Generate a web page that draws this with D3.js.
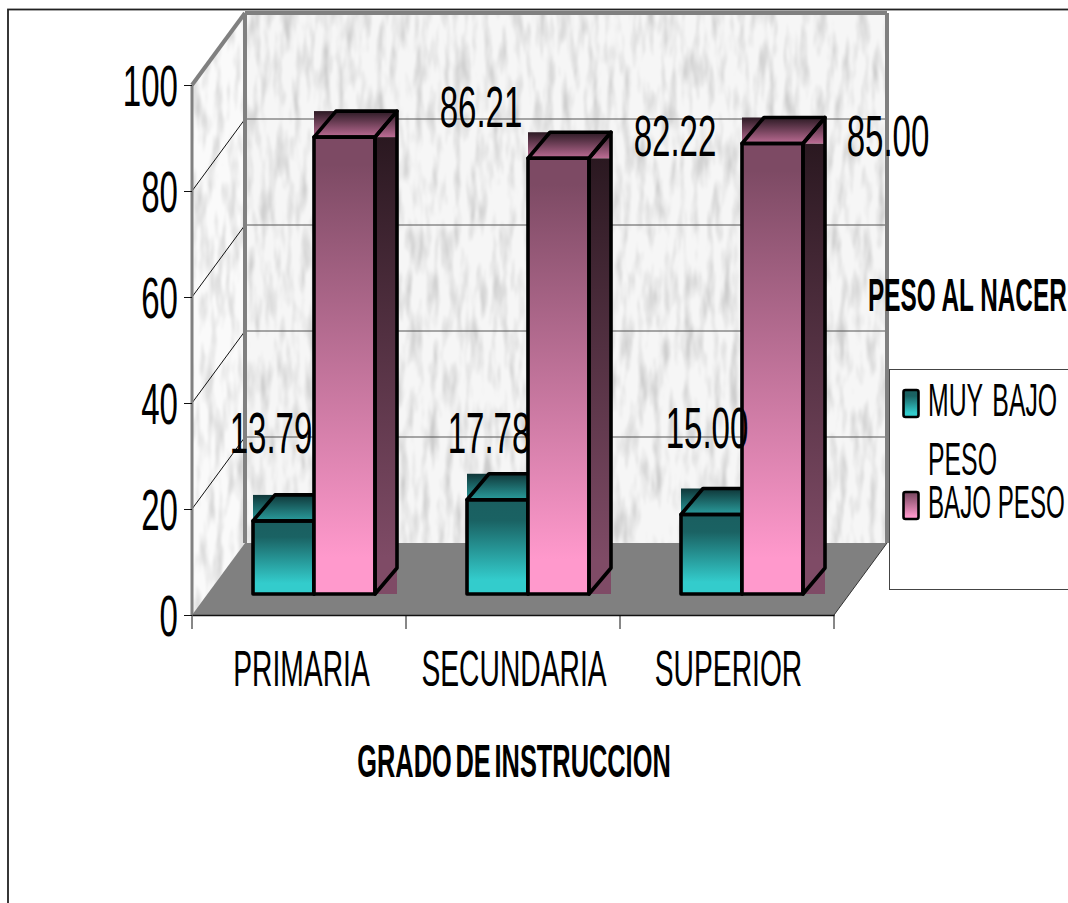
<!DOCTYPE html>
<html>
<head>
<meta charset="utf-8">
<style>
html,body{margin:0;padding:0;background:#fff;overflow:hidden}
svg{display:block}
text{font-family:"Liberation Sans",Arial,sans-serif;fill:#000}
</style>
<script src="https://cdn.jsdelivr.net/npm/d3@7"></script>
</head>
<body>
<div id="chart"></div>
<script>
// Birth weight by mother's education level
const categories = ["PRIMARIA", "SECUNDARIA", "SUPERIOR"];
const muyBajoPeso = [13.79, 17.78, 15.00];
const bajoPeso = [86.21, 82.22, 85.00];
const yTicks = [0, 20, 40, 60, 80, 100];
const legendNames = [["MUY BAJO", "PESO"], ["BAJO PESO"]];

const W = 1068, H = 903;
const svg = d3.select("#chart").append("svg").attr("width", W).attr("height", H);
const defs = svg.append("defs");

// Oblique projection of the chart box
const box = {x0: 192, x1: 834, yTop: 85, yBase: 615, dx: 53, dy: -72};
const y = d3.scaleLinear().domain([0, 100]).range([box.yBase, box.yTop]);
const x = d3.scaleBand().domain(categories).range([box.x0, box.x1]);
const barW = 61, floorDx = 15, floorDy = -21, barDx = 22, barDy = -26;

function vGrad(id, stops) {
  const g = defs.append("linearGradient").attr("id", id)
    .attr("x1", 0).attr("y1", 0).attr("x2", 0).attr("y2", 1);
  stops.forEach(([o, c]) => g.append("stop").attr("offset", o).attr("stop-color", c));
}
vGrad("tealFront", [[0, "#1a5f60"], [0.22, "#1a6263"], [0.85, "#33cccc"], [1, "#33cccc"]]);
vGrad("tealTop", [[0, "#0f3638"], [1, "#2a9d9d"]]);
vGrad("pinkFront", [[0, "#7d4a64"], [0.06, "#7d4a64"], [0.92, "#ff99cc"], [1, "#ff99cc"]]);
vGrad("pinkTop", [[0, "#2c1a24"], [1, "#bc6c94"]]);
vGrad("pinkSide", [[0, "#2a1820"], [0.92, "#7f4b66"], [1, "#7f4b66"]]);

// Mottled wall texture with soft vertical streaks
const noise = defs.append("filter").attr("id", "mottle")
  .attr("x", 0).attr("y", 0).attr("width", 1).attr("height", 1);
noise.append("feTurbulence").attr("type", "fractalNoise")
  .attr("baseFrequency", "0.13 0.022").attr("numOctaves", 3).attr("seed", 11).attr("result", "n");
noise.append("feColorMatrix").attr("in", "n").attr("type", "matrix")
  .attr("values", "0 0 0 0 0  0 0 0 0 0  0 0 0 0 0  2.4 0 0 0 -1.05");
noise.append("feGaussianBlur").attr("stdDeviation", 0.9);
noise.append("feComponentTransfer").append("feFuncA").attr("type", "linear").attr("slope", 0.17);

// Text squeezed horizontally, the way the narrow labels are set
function narrow(g, str, px, py, size, sx, anchor, bold) {
  return g.append("text")
    .attr("transform", `translate(${px},${py}) scale(${sx},1)`)
    .attr("text-anchor", anchor || "middle")
    .attr("font-size", size)
    .attr("font-weight", bold ? "bold" : "normal")
    .text(str);
}
const pts = a => a.map(p => p.join(",")).join(" ");

// Outer chart frame
svg.append("rect").attr("x", 8).attr("y", 9.5).attr("width", W + 20).attr("height", H + 20)
  .attr("fill", "#fff").attr("stroke", "#222").attr("stroke-width", 1.8);

const back = {x0: box.x0 + box.dx, x1: box.x1 + box.dx, yTop: box.yTop + box.dy, yBase: box.yBase + box.dy};

// Walls
const wallPoly = [[back.x0, back.yTop], [back.x1, back.yTop], [back.x1, back.yBase], [back.x0, back.yBase]];
const sidePoly = [[box.x0, box.yTop], [back.x0, back.yTop], [back.x0, back.yBase], [box.x0, box.yBase]];
svg.append("polygon").attr("points", pts(wallPoly)).attr("fill", "#f6f6f6");
svg.append("polygon").attr("points", pts(sidePoly)).attr("fill", "#fafafa");
const clip = defs.append("clipPath").attr("id", "wallClip");
clip.append("polygon").attr("points", pts(wallPoly));
clip.append("polygon").attr("points", pts(sidePoly));
svg.append("g").attr("clip-path", "url(#wallClip)")
  .append("rect").attr("x", box.x0).attr("y", back.yTop)
  .attr("width", back.x1 - box.x0).attr("height", box.yBase - back.yTop)
  .attr("filter", "url(#mottle)");

// Floor
svg.append("polygon")
  .attr("points", pts([[box.x0, box.yBase], [box.x1, box.yBase], [back.x1, back.yBase], [back.x0, back.yBase]]))
  .attr("fill", "#808080");

// Gridlines across both walls
yTicks.filter(t => t > 0 && t < 100).forEach(t => {
  const yy = y(t);
  svg.append("line").attr("x1", box.x0).attr("y1", yy).attr("x2", back.x0).attr("y2", yy + box.dy)
    .attr("stroke", "#111").attr("stroke-width", 1);
  svg.append("line").attr("x1", back.x0).attr("x2", back.x1).attr("y1", yy + box.dy).attr("y2", yy + box.dy)
    .attr("stroke", "#555").attr("stroke-width", 1);
});

// Heavy grey edges of the box
const edge = "#808080";
[[box.x0, box.yTop, back.x0, back.yTop, 4], [back.x0, back.yTop, back.x1, back.yTop, 4],
 [back.x0, back.yTop, back.x0, back.yBase, 4], [back.x1, back.yTop, back.x1, back.yBase, 4],
 [box.x0, box.yTop, box.x0, box.yBase, 3]].forEach(([a, b, c, d, w]) => {
  svg.append("line").attr("x1", a).attr("y1", b).attr("x2", c).attr("y2", d)
    .attr("stroke", edge).attr("stroke-width", w);
});
svg.append("line").attr("x1", box.x1).attr("y1", box.yBase).attr("x2", back.x1).attr("y2", back.yBase)
  .attr("stroke", "#333").attr("stroke-width", 1);

// Axes, drawn with d3-axis and styled as thin black rules
const yAxis = svg.append("g").attr("transform", `translate(${box.x0},0)`)
  .call(d3.axisLeft(y).tickValues(yTicks).tickSize(8).tickFormat(""));
const xAxis = svg.append("g").attr("transform", `translate(0,${box.yBase})`)
  .call(d3.axisBottom(x).tickValues([]).tickSizeOuter(0));
xAxis.select(".domain").attr("stroke", "#111").attr("stroke-width", 1.5);
yAxis.select(".domain").attr("stroke", "none");
yAxis.selectAll("line").attr("stroke", "#111").attr("stroke-width", 1);
const xTickPos = categories.map(c => x(c)).concat([box.x1]);
svg.append("g").selectAll("line").data(xTickPos).join("line")
  .attr("x1", d => d).attr("x2", d => d)
  .attr("y1", box.yBase).attr("y2", box.yBase + 14)
  .attr("stroke", "#111").attr("stroke-width", 1);

// Bars: each face is a filled bounding box with a black wireframe on top
function drawBar(g, left, value, front, top, side) {
  const b = y(0) + floorDy, t = b - (y(0) - y(value));
  const r = left + barW;
  if (side) g.append("rect").attr("x", r).attr("y", t).attr("width", barDx).attr("height", b - t).attr("fill", `url(#${side})`);
  g.append("rect").attr("x", left).attr("y", t + barDy).attr("width", barW + barDx).attr("height", -barDy).attr("fill", `url(#${top})`);
  g.append("rect").attr("x", left).attr("y", t).attr("width", barW).attr("height", b - t).attr("fill", `url(#${front})`);
  const outline = [
    [[left, t], [r, t], [r, b], [left, b]],
    [[left, t], [left + barDx, t + barDy], [r + barDx, t + barDy], [r, t]],
    [[r, t], [r + barDx, t + barDy], [r + barDx, b + barDy], [r, b]]
  ];
  outline.forEach(o => g.append("polygon").attr("points", pts(o))
    .attr("fill", "none").attr("stroke", "#000").attr("stroke-width", 3.6).attr("stroke-linejoin", "round"));
}
categories.forEach((c, i) => {
  const cx = x(c) + x.bandwidth() / 2 + floorDx;
  const g = svg.append("g");
  drawBar(g, cx - barW, muyBajoPeso[i], "tealFront", "tealTop", null);
  drawBar(g, cx, bajoPeso[i], "pinkFront", "pinkTop", "pinkSide");
});

const labels = svg.append("g");
// Y tick labels
yTicks.forEach(t => narrow(labels, String(t), 178, y(t) + 21, 58, 0.57, "end"));
// Category labels
const catCenters = [301.5, 514, 728.5];
categories.forEach((c, i) => narrow(labels, c, catCenters[i], 686, 50, 0.565));

// Value labels, placed by hand around the bars
const labelSpots = [[271, 453], [481, 127], [489, 453], [675, 156], [707, 448], [888, 156]];
[muyBajoPeso[0], bajoPeso[0], muyBajoPeso[1], bajoPeso[1], muyBajoPeso[2], bajoPeso[2]].forEach((v, i) =>
  narrow(labels, v.toFixed(2), labelSpots[i][0], labelSpots[i][1], 58, 0.57));

// Axis titles
narrow(labels, "GRADO DE INSTRUCCION", 514, 777, 47, 0.54, "middle", true).attr("word-spacing", -6);
narrow(labels, "PESO AL NACER", 868, 311, 47, 0.518, "start", true);

// Legend
svg.append("rect").attr("x", 889.5).attr("y", 369.5).attr("width", 200).attr("height", 220)
  .attr("fill", "#fff").attr("stroke", "#444").attr("stroke-width", 1);
const legendSwatch = [{y: 390, h: 27, grad: "tealFront"}, {y: 492, h: 27, grad: "pinkFront"}];
const legendBase = [[416, 475], [518]];
const legendScale = [0.54, 0.525];
legendNames.forEach((lines, i) => {
  const s = legendSwatch[i];
  svg.append("rect").attr("x", 903.5).attr("y", s.y).attr("width", 15).attr("height", s.h)
    .attr("rx", 2).attr("fill", `url(#${s.grad})`).attr("stroke", "#000").attr("stroke-width", 2.6);
  lines.forEach((l, j) => {
    narrow(labels.raise(), l, 928, legendBase[i][j], 46, legendScale[i], "start").attr("word-spacing", j === 0 && i === 0 ? 5 : 0);
  });
});
</script>
</body>
</html>
